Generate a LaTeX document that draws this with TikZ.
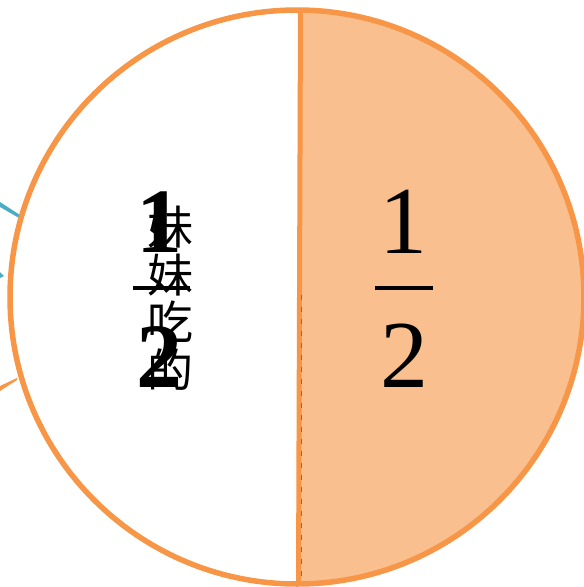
\documentclass[tikz,border=0pt]{standalone}
\usepackage{fontspec}
\setmainfont{Liberation Serif}
\newfontfamily\cjk{Noto Sans CJK SC}
\definecolor{orn}{HTML}{F79646}
\definecolor{orfill}{HTML}{F9BF8F}
\definecolor{dashc}{HTML}{B0612A}
\definecolor{blu}{HTML}{4BACC6}
\begin{document}
\begin{tikzpicture}[x=1pt,y=-1pt,
  digit/.style={inner sep=0pt,anchor=base,font=\fontsize{96}{96}\selectfont},
  bdigit/.style={inner sep=0pt,anchor=base,font=\bfseries\fontsize{92}{92}\selectfont},
  fracbar/.style={line width=3.5pt,black}]
\useasboundingbox (0,0) rectangle (584,587);
% callout ends at left
\fill[blu] (0,202) -- (20,215) -- (19,218) -- (0,207) -- cycle;
\fill[blu] (0,272) -- (4,276) -- (0,278) -- cycle;
\fill[orn] (0,386) -- (17,378) -- (17,380) -- (0,391) -- cycle;
% filled half
\begin{scope}
\clip (297,297) circle[radius=287];
\fill[orfill] (300.5,0) -- (600,0) -- (600,600) -- (298.5,600) -- cycle;
\end{scope}
\coordinate (top) at (300.5,10);
\coordinate (bot) at (298.5,584);
\draw[orn,line width=5pt] (top) -- (bot);
\draw[dashc,line width=0.8pt,dash pattern=on 5pt off 7pt] (301,295) -- (301,582);
\draw[orn,line width=5.5pt] (297,297) circle[radius=287];
% right fraction
\node[digit] (r1) at (403,253) {1};
\coordinate (rb1) at (375,288);
\coordinate (rb2) at (433,288);
\draw[fracbar] (rb1) -- (rb2);
\node[digit] (r2) at (404,387) {2};
% left fraction
\node[bdigit] (l1) at (159,252) {1};
\coordinate (lb1) at (133,288);
\coordinate (lb2) at (190,288);
\draw[fracbar] (lb1) -- (lb2);
\node[bdigit] (l2) at (159,387) {2};
% chinese
\node[inner sep=0pt,align=center,font=\cjk\fontsize{46}{47.5}\selectfont] (cn) at (170,298) {妹\\妹\\吃\\的};
\end{tikzpicture}
\end{document}
